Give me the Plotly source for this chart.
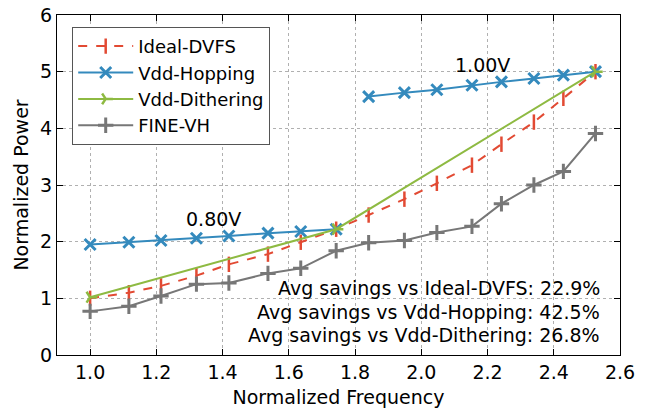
import plotly.graph_objects as go

freq = [1.0, 1.117, 1.214, 1.321, 1.419, 1.537, 1.636, 1.743,
        1.841, 1.949, 2.047, 2.153, 2.242, 2.340, 2.429, 2.526]

ideal_dvfs = [1.0, 1.10, 1.22, 1.40, 1.60, 1.78, 1.99, 2.22,
              2.47, 2.75, 3.03, 3.35, 3.72, 4.11, 4.53, 5.0]

hop_low_x = freq[:8]
hop_low = [1.95, 1.99, 2.02, 2.06, 2.10, 2.15, 2.18, 2.22]
hop_high_x = freq[8:]
hop_high = [4.56, 4.63, 4.68, 4.76, 4.82, 4.88, 4.94, 5.0]

dither_x = [1.0, 1.743, 2.526]
dither = [1.02, 2.22, 5.0]

fine_vh = [0.77, 0.86, 1.04, 1.25, 1.27, 1.44, 1.53, 1.84,
           1.98, 2.02, 2.16, 2.27, 2.67, 3.0, 3.24, 3.91]

x_ticks = [1.0, 1.2, 1.4, 1.6, 1.8, 2.0, 2.2, 2.4, 2.6]
y_ticks = [0, 1, 2, 3, 4, 5, 6]

savings_text = ["Avg savings vs Ideal-DVFS: 22.9%",
                "Avg savings vs Vdd-Hopping: 42.5%",
                "Avg savings vs Vdd-Dithering: 26.8%"]
savings_y = [1.18, 0.765, 0.36]

RED, BLUE, GREEN, GRAY = "#E24A33", "#348ABD", "#8EBA42", "#777777"
FONT = "DejaVu Sans"
FS = 19

fig = go.Figure()
fig.add_trace(go.Scatter(x=freq, y=ideal_dvfs, name="Ideal-DVFS", mode="lines+markers",
                         line=dict(color=RED, width=2, dash="dash"),
                         marker=dict(symbol="line-ns", size=11, line=dict(color=RED, width=2.5))))
fig.add_trace(go.Scatter(x=hop_low_x, y=hop_low, name="Vdd-Hopping", mode="lines+markers",
                         legendgroup="hop",
                         line=dict(color=BLUE, width=2),
                         marker=dict(symbol="x-thin", size=11, line=dict(color=BLUE, width=3))))
fig.add_trace(go.Scatter(x=hop_high_x, y=hop_high, name="Vdd-Hopping", mode="lines+markers",
                         legendgroup="hop", showlegend=False,
                         line=dict(color=BLUE, width=2),
                         marker=dict(symbol="x-thin", size=11, line=dict(color=BLUE, width=3))))
fig.add_trace(go.Scatter(x=dither_x, y=dither, name="Vdd-Dithering", mode="lines+markers",
                         line=dict(color=GREEN, width=2),
                         marker=dict(symbol="y-right", size=9, line=dict(color=GREEN, width=2.5))))
fig.add_trace(go.Scatter(x=freq, y=fine_vh, name="FINE-VH", mode="lines+markers",
                         line=dict(color=GRAY, width=2),
                         marker=dict(symbol="cross-thin", size=11, line=dict(color=GRAY, width=3))))

annos = [dict(x=1.373, y=2.40, text="0.80V", showarrow=False, xanchor="center", yanchor="middle",
              font=dict(size=FS, color="black", family=FONT)),
         dict(x=2.186, y=5.12, text="1.00V", showarrow=False, xanchor="center", yanchor="middle",
              font=dict(size=FS, color="black", family=FONT))]
for t, yy in zip(savings_text, savings_y):
    annos.append(dict(x=2.546, y=yy, text=t, showarrow=False, xanchor="right", yanchor="middle",
                      font=dict(size=FS, color="black", family=FONT)))

axis_common = dict(showline=True, linecolor="black", linewidth=1.2, mirror="ticks",
                   ticks="inside", ticklen=6, tickcolor="black", tickwidth=1,
                   showgrid=True, gridcolor="#b0b0b0", griddash="dot", gridwidth=1,
                   zeroline=False, automargin=False,
                   tickfont=dict(size=FS, family=FONT, color="black"))

fig.update_layout(
    width=652, height=412,
    margin=dict(l=57, r=32, t=15, b=57),
    plot_bgcolor="white", paper_bgcolor="white",
    font=dict(family=FONT, color="black"),
    xaxis=dict(range=[0.9, 2.6], tickvals=x_ticks, ticktext=[f"{v:.1f}" for v in x_ticks],
               title=dict(text="Normalized Frequency", font=dict(size=FS, family=FONT), standoff=8),
               **axis_common),
    yaxis=dict(range=[0, 6], tickvals=y_ticks,
               title=dict(text="Normalized Power", font=dict(size=FS, family=FONT), standoff=6),
               **axis_common),
    legend=dict(x=0.027, y=0.965, xanchor="left", yanchor="top",
                bgcolor="white", bordercolor="#555555", borderwidth=1,
                font=dict(size=18, family=FONT, color="black"),
                itemwidth=55, tracegroupgap=0),
    annotations=annos,
    showlegend=True,
)

fig.write_html("out.html", config={"displayModeBar": False},
               post_script="document.body.style.margin='0';document.body.style.overflow='hidden';")
